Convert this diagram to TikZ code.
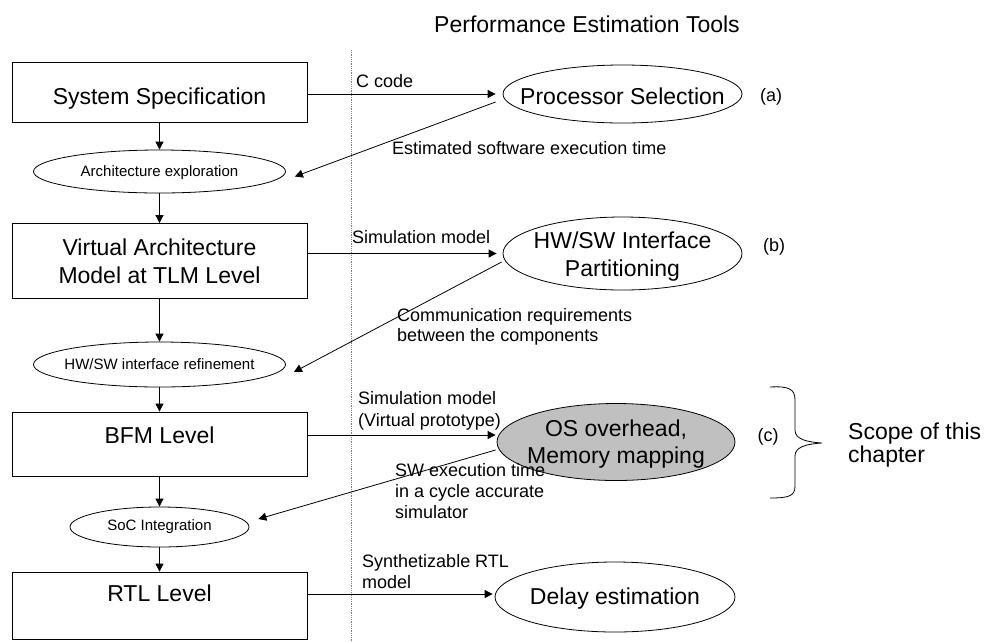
\documentclass[tikz,border=0pt]{standalone}
\usepackage{fontspec}
\setmainfont{Liberation Sans}
\usetikzlibrary{shapes.geometric,arrows.meta,calc}
\definecolor{osgray}{RGB}{192,192,192}
\begin{document}
\begin{tikzpicture}[x=1pt,y=-1pt,
  box/.style={draw, line width=0.8pt, minimum width=295pt, inner sep=0pt},
  ell/.style={draw, ellipse, line width=0.8pt, inner sep=0pt},
  big/.style={font=\fontsize{23}{27.6}\selectfont, inner sep=0pt, align=center},
  small/.style={font=\fontsize{15}{18}\selectfont, inner sep=0pt},
  lbl/.style={font=\fontsize{18}{21}\selectfont, inner sep=0pt, anchor=base west},
  arr/.style={line width=0.8pt, -{Triangle[length=8pt,width=8pt]}}
]
\path[use as bounding box] (0,0) rectangle (985,641);

% title and separator
\node[big, anchor=base] (title) at (587,32) {Performance Estimation Tools};
\draw[gray, densely dotted, line width=0.8pt] (351,50) -- (351,641);

% left flow
\node[box, minimum height=60pt] (b1) at (159.5,92) {};
\node[big, anchor=base] (t1) at (159.5,104) {System Specification};
\node[ell, minimum width=252pt, minimum height=43pt] (e1) at (159.5,171.5) {};
\node[small] (te1) at ([yshift=-1.5pt]e1.center) {Architecture exploration};
\node[box, minimum height=75pt] (b2) at (159.5,261) {};
\node[big] (t2) at (b2) {Virtual Architecture\\Model at TLM Level};
\node[ell, minimum width=252pt, minimum height=45pt] (e2) at (159.5,364.5) {};
\node[small] (te2) at (e2) {HW/SW interface refinement};
\node[box, minimum height=64pt] (b3) at (159.5,444) {};
\node[big] (t3) at (159.5,435) {BFM Level};
\node[ell, minimum width=179pt, minimum height=40pt] (e3) at (159.5,527) {};
\node[small] (te3) at (e3) {SoC Integration};
\node[box, minimum height=67pt] (b4) at (159.5,605.5) {};
\node[big] (t4) at (159.5,593) {RTL Level};

\draw[arr] (b1.south) -- (e1.north);
\draw[arr] (e1.south) -- (b2.north);
\draw[arr] (b2.south) -- (e2.north);
\draw[arr] (e2.south) -- (b3.north);
\draw[arr] (b3.south) -- (e3.north);
\draw[arr] (e3.south) -- (b4.north);

% right side tools
\node[ell, minimum width=239pt, minimum height=58pt] (ps) at (622.5,94) {};
\node[big, anchor=base] (tps) at (622.5,104) {Processor Selection};
\node[ell, minimum width=239pt, minimum height=73pt] (hp) at (622.5,253.5) {};
\node[big] (thp) at ([yshift=-3pt]hp.center) {HW/SW Interface\\Partitioning};
\node[ell, fill=osgray, minimum width=238pt, minimum height=77pt] (os) at (616,442) {};
\node[big] (tos) at ([yshift=-2pt]os.center) {OS overhead,\\Memory mapping};
\node[ell, minimum width=240pt, minimum height=70pt] (de) at (615,597) {};
\node[big] (tde) at ([yshift=-2pt]de.center) {Delay estimation};

% (a) (b) (c)
\node[font=\fontsize{18}{21}\selectfont, inner sep=0pt] (la) at (771,97) {(a)};
\node[font=\fontsize{18}{21}\selectfont, inner sep=0pt] (lb) at (774,247) {(b)};
\node[font=\fontsize{18}{21}\selectfont, inner sep=0pt] (lc) at (768,437) {(c)};

% connectors
\draw[arr] (b1.east |- ps.west) -- ([xshift=-7pt]ps.west);
\draw[arr] ([shift={(-7,8)}]ps.west) -- ([shift={(9,5)}]e1.east);
\draw[arr] (b2.east |- hp.west) -- ([xshift=-6pt]hp.west);
\draw[arr] ([shift={(-1,8.5)}]hp.west) -- ([shift={(8,7.5)}]e2.east);
\draw[arr] ([yshift=9pt]b3.east) -- ([shift={(-1,-7)}]os.west);
\draw[arr] ([shift={(-1,8)}]os.west) -- ([shift={(9,-8)}]e3.east);
\draw[arr] ([yshift=11.5pt]b4.east) -- ([shift={(-2,-3)}]de.west);

% connector labels
\node[lbl] (l1) at (356,87) {C code};
\node[lbl] (l2) at (392,154) {Estimated software execution time};
\node[lbl] (l3) at (352,243) {Simulation model};
\node[lbl] (l4a) at (397,321) {Communication requirements};
\node[lbl] (l4b) at (397,341) {between the components};
\node[lbl] (l5a) at (358,404) {Simulation model};
\node[lbl] (l5b) at (358,426) {(Virtual prototype)};
\node[lbl] (l6a) at (395,476) {SW execution time};
\node[lbl] (l6b) at (395,497) {in a cycle accurate};
\node[lbl] (l6c) at (395,518) {simulator};
\node[lbl] (l7a) at (362,567) {Synthetizable RTL};
\node[lbl] (l7b) at (362,588) {model};

% brace and scope
\draw[line width=0.8pt] (770,387) .. controls (789,386) and (795,389) .. (795,400)
  -- (795,430) .. controls (795,439) and (806,442) .. (822,443)
  .. controls (806,444) and (795,447) .. (795,456)
  -- (795,486) .. controls (795,496) and (789,498) .. (770,498);
\node[font=\fontsize{23}{23}\selectfont, inner sep=0pt, anchor=base west] (s1) at (848,439) {Scope of this};
\node[font=\fontsize{23}{23}\selectfont, inner sep=0pt, anchor=base west] (s2) at (848,462) {chapter};
\end{tikzpicture}
\end{document}
